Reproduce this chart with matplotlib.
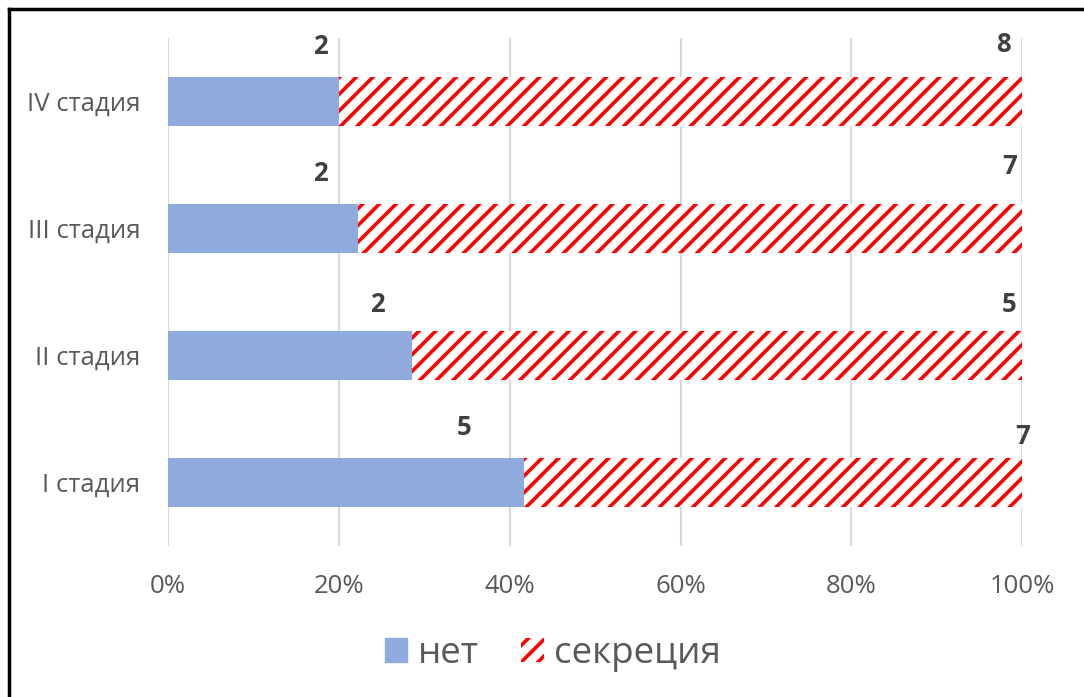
import matplotlib
matplotlib.use("Agg")
import matplotlib.pyplot as plt
from matplotlib.lines import Line2D

plt.rcParams['font.family'] = ['Open Sans', 'DejaVu Sans']
plt.rcParams['hatch.linewidth'] = 2.6

categories = ["I стадия", "II стадия", "III стадия", "IV стадия"]
net_counts = [5, 2, 2, 2]
secretion_counts = [7, 5, 7, 8]
xtick_labels = ["0%", "20%", "40%", "60%", "80%", "100%"]
legend_labels = ["нет", "секреция"]

# label placement (fraction of axis) as in the original manual layout
net_label_x = [0.347, 0.245, 0.178, 0.178]
sec_label_x = [1.0, 0.985, 0.985, 0.978]
net_label_dy = [0.43, 0.40, 0.43, 0.43]
sec_label_dy = [0.36, 0.40, 0.49, 0.45]

net_share = [n / (n + s) for n, s in zip(net_counts, secretion_counts)]
sec_share = [s / (n + s) for n, s in zip(net_counts, secretion_counts)]

fig = plt.figure(figsize=(10.84, 6.97), dpi=100)
ax = fig.add_axes([0.155, 0.2166, 0.788, 0.729])

blue = "#8faadc"
red = "#ff0000"
y = list(range(len(categories)))
h = 0.39
ax.barh(y, net_share, height=h, color=blue, zorder=2)
ax.barh(y, sec_share, left=net_share, height=h, facecolor="white",
        edgecolor=red, hatch="//", linewidth=0, zorder=2)

ax.set_xlim(0, 1)
ax.set_ylim(-0.5, len(categories) - 0.5)
ax.set_xticks([i * 0.2 for i in range(6)])
ax.set_xticklabels(xtick_labels)
ax.set_yticks(y)
ax.set_yticklabels(categories)
ax.tick_params(axis='both', length=0, labelsize=18.5, labelcolor="#595959")
ax.tick_params(axis='x', pad=20)
ax.tick_params(axis='y', pad=20)
ax.grid(axis='x', color="#d9d9d9", linewidth=1.5, zorder=0)
for s in ax.spines.values():
    s.set_visible(False)

for i in y:
    ax.text(net_label_x[i], i + net_label_dy[i], str(net_counts[i]),
            ha='center', va='center', fontsize=18.5, fontweight='bold', color="#404040")
    ax.text(sec_label_x[i], i + sec_label_dy[i], str(secretion_counts[i]),
            ha='center', va='center', fontsize=18.5, fontweight='bold', color="#404040")

handles = [plt.Rectangle((0, 0), 1, 1, color=blue),
           plt.Rectangle((0, 0), 1, 1, facecolor="white", edgecolor=red, hatch="//", linewidth=0)]
fig.legend(handles, legend_labels, loc='center', bbox_to_anchor=(0.51, 0.062),
           ncol=2, frameon=False, fontsize=26.5, labelcolor="#595959",
           handlelength=0.62, handleheight=0.62, handletextpad=0.28, columnspacing=1.15)

# outer frame (only top and left edges visible in the crop)
fig.add_artist(Line2D([0.0085, 1.0], [0.987, 0.987], transform=fig.transFigure, color="black", linewidth=2.5))
fig.add_artist(Line2D([0.0085, 0.0085], [0.0, 0.987], transform=fig.transFigure, color="black", linewidth=2.5))

fig.savefig("out.png", dpi=100)
